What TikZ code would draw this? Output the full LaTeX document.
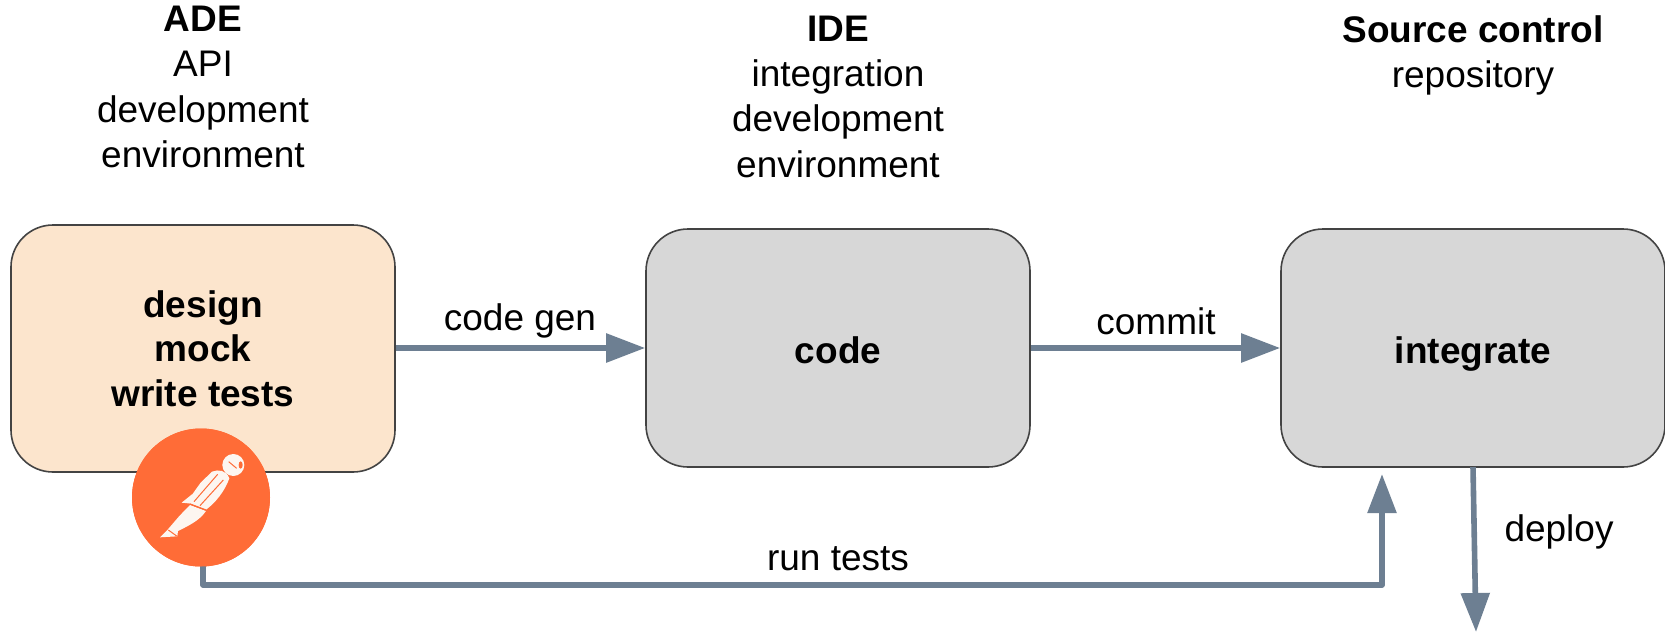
\documentclass[tikz,border=0pt]{standalone}
\usepackage{fontspec}
\setmainfont{Liberation Sans}
\usetikzlibrary{arrows.meta}
\definecolor{peach}{HTML}{FCE5CD}
\definecolor{boxgray}{HTML}{D7D7D7}
\definecolor{edgegray}{HTML}{434343}
\definecolor{arrowslate}{HTML}{6D7F92}
\definecolor{pmorange}{HTML}{FF6C37}
\definecolor{pmwhite}{HTML}{FDF6F0}
\newcommand{\boxline}[1]{\raisebox{-2.5pt}{#1}}
\tikzset{
  x=1pt,y=-1pt,
  txt/.style={font=\fontsize{37}{45.3}\selectfont,align=center,inner sep=0pt,text=black},
  stagebox/.style={draw=edgegray,line width=1.6pt,rounded corners=42pt,minimum width=384pt,font=\fontsize{37}{44.5}\selectfont\bfseries,align=center,inner sep=0pt},
  flow/.style={draw=arrowslate,line width=5.6pt,-{Triangle[length=39pt,width=28pt]}},
}
\begin{document}
\begin{tikzpicture}
\useasboundingbox (0,0) rectangle (1665,632);
% boxes
\node[stagebox,fill=peach,minimum height=247pt] (ade) at (203,348.5) {\boxline{design}\\\boxline{mock}\\\boxline{write tests}};
\node[stagebox,fill=boxgray,minimum height=238pt] (ide) at (838,348) {\raisebox{-2pt}[26pt][0pt]{code}};
\node[stagebox,fill=boxgray,minimum height=238pt] (src) at (1473,348) {\raisebox{-2pt}[26pt][0pt]{integrate}};
% icon
\node[circle,fill=pmorange,minimum size=138pt,inner sep=0pt] (pm) at (201,497.5) {};
\coordinate (runturn) at (203,585);
\coordinate (runcorner) at (1382,585);
\coordinate (runtip) at (1382,474);
\coordinate (deploytip) at (1476,632);
\coordinate (deploystart) at (1473,467);
% connectors
\draw[flow] (ade.east |- ide.west) -- (ide.west);
\draw[flow] (ide.east) -- (src.west);
\draw[draw=arrowslate,line width=5.6pt,line join=round,-{Triangle[length=39pt,width=28pt]}] (203,560) -- (runturn) -- (runcorner) -- (runtip);
\draw[flow] (deploystart) -- (deploytip);
% redraw icon over run-line start
\node[circle,fill=pmorange,minimum size=138pt,inner sep=0pt] at (pm.center) {};
\begin{scope}[shift={(150,445)},x=0.3333pt,y=-0.3333pt]
  \fill[pmwhite] (250,60) circle (33);
  \draw[pmorange,line width=1pt] (236,50) -- (260,70);
  \fill[pmorange] (272,60) ellipse (6 and 11);
  \fill[pmwhite] (186,80) .. controls (205,72) and (230,76) .. (238,100) .. controls (225,138) and (195,175) .. (168,194) -- (122,176) -- (122,155) -- (152,113) -- cycle;
  \fill[pmwhite] (95,173) -- (126,148) -- (124,176) -- cycle;
  \fill[pmwhite] (120,180) -- (168,198) .. controls (148,228) and (112,244) .. (84,258) -- (82,274) -- (30,277) -- (52,255) -- (88,213) -- cycle;
  \draw[pmorange,line width=1pt] (203,88) -- (132,170);
  \draw[pmorange,line width=1pt] (220,105) -- (150,182);
  \draw[pmorange,line width=1.2pt] (120,177) -- (168,195);
  \draw[pmorange,line width=1pt] (55,255) -- (80,273);
\end{scope}
% top labels
\node[txt,anchor=north] (t1) at (203,6) {\textbf{ADE}\\API\\development\\environment};
\node[txt,anchor=north] (t2) at (838,15.5) {\textbf{IDE}\\integration\\development\\environment};
\node[txt,anchor=north] (t3) at (1473,15) {\textbf{Source control}\\repository};
% edge labels
\node[txt] (l1) at (520,321) {code gen};
\node[txt] (l2) at (1156,321) {commit};
\node[txt] (l3) at (838,559) {run tests};
\node[txt] (l4) at (1559,532) {deploy};
\end{tikzpicture}
\end{document}
